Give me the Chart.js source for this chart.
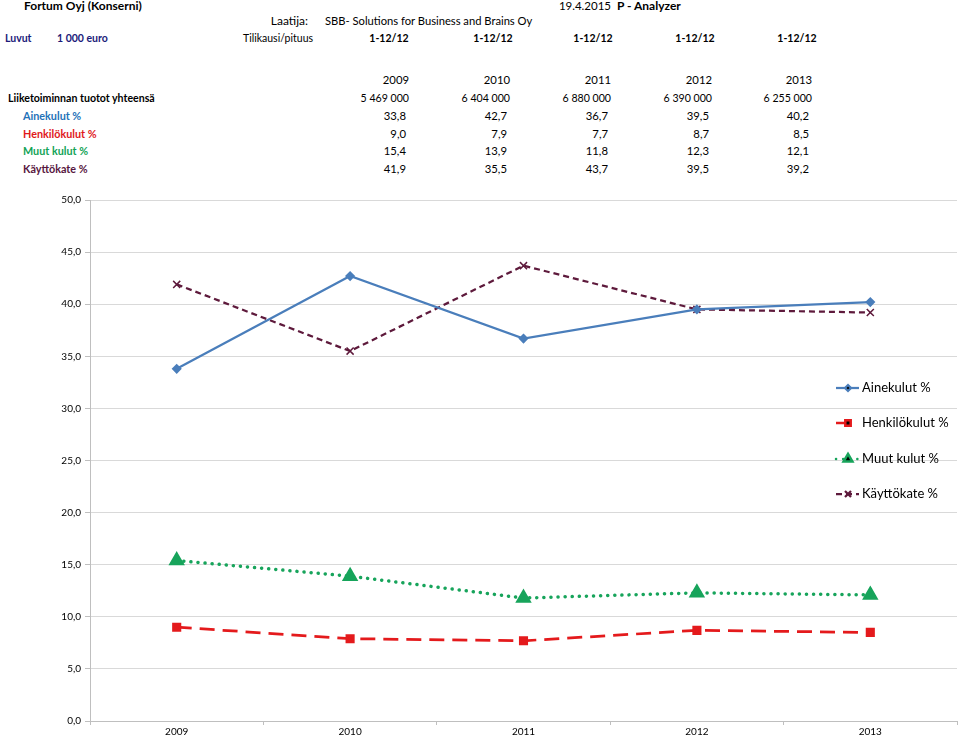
<!DOCTYPE html>
<html>
<head>
<meta charset="utf-8">
<script src="https://cdn.jsdelivr.net/npm/chart.js@4"></script>
<style>
  body { margin: 0; width: 960px; height: 737px; position: relative; overflow: hidden; background: #fff; font-family: Lato, "Open Sans", sans-serif; color: #000; }
  .t { position: absolute; white-space: nowrap; font-size: 11.3px; line-height: 14px; }
  .b { font-weight: bold; }
  .r { text-align: right; }
  #chartBox { position: absolute; left: 0; top: 190px; width: 960px; height: 547px; }
</style>
</head>
<body>
<div id="head"></div>
<div id="chartBox"><canvas id="lineChart"></canvas></div>
<script>
const years = ['2009', '2010', '2011', '2012', '2013'];
const periods = ['1-12/12', '1-12/12', '1-12/12', '1-12/12', '1-12/12'];
const tuotot = ['5 469 000', '6 404 000', '6 880 000', '6 390 000', '6 255 000'];
const ainekulut = [33.8, 42.7, 36.7, 39.5, 40.2];
const henkilokulut = [9.0, 7.9, 7.7, 8.7, 8.5];
const muutKulut = [15.4, 13.9, 11.8, 12.3, 12.1];
const kayttokate = [41.9, 35.5, 43.7, 39.5, 39.2];

const fmt = (v) => v.toFixed(1).replace('.', ',');

// header + table as plain text
const head = document.getElementById('head');
const put = (text, x, y, cls, style) => {
    const d = document.createElement('div');
    d.className = 't ' + (cls || '');
    d.textContent = text;
    d.style.left = x + 'px';
    d.style.top = y + 'px';
    if (style) Object.assign(d.style, style);
    head.appendChild(d);
    return d;
};
const putR = (text, right, y, cls, style) => {
    const d = put(text, 0, y, 'r ' + (cls || ''), style);
    d.style.left = '';
    d.style.right = (960 - right) + 'px';
    return d;
};

put('Fortum Oyj (Konserni)', 24, -1, 'b', { fontSize: '12px' });
putR('19.4.2015', 611, -1, '', { fontSize: '11.5px' });
put('P - Analyzer', 617, -1, 'b', { fontSize: '12px' });
putR('Laatija:', 308, 14, '', { fontSize: '12px' });
put('SBB- Solutions for Business and Brains Oy', 325, 14, '', { fontSize: '11.2px' });
put('Luvut', 5, 31, 'b', { color: '#1b1b7a', fontSize: '10.5px' });
put('1 000 euro', 57, 31, 'b', { color: '#1b1b7a', fontSize: '10.5px' });
put('Tilikausi/pituus', 243, 31, '', { fontSize: '10.5px' });
const periodX = [389, 493, 593, 695, 797];
periods.forEach((p, i) => {
    put(p, periodX[i] - 30, 31, 'b', { fontSize: '10.5px', width: '60px', textAlign: 'center' });
});

const colRight = [409, 510, 611, 712, 812];
years.forEach((y, i) => putR(y, colRight[i], 73));
put('Liiketoiminnan tuotot yhteensä', 8, 91, 'b', { fontSize: '10.6px' });
tuotot.forEach((v, i) => putR(v, colRight[i], 91, '', { fontSize: '10.6px' }));

const rows = [
    ['Ainekulut %', ainekulut, '#1f72b8'],
    ['Henkilökulut %', henkilokulut, '#e0181b'],
    ['Muut kulut %', muutKulut, '#12a356'],
    ['Käyttökate %', kayttokate, '#571640'],
];
rows.forEach((row, r) => {
    const y = 109 + r * 17.5;
    put(row[0], 23, y, 'b', { color: row[2], fontSize: '10.8px' });
    row[1].forEach((v, i) => putR(fmt(v), colRight[i] - 3, y));
});

// legend drawn on the canvas, over the plot like in the original
const legendPlugin = {
    id: 'sideLegend',
    afterDraw(chart) {
        const ctx = chart.ctx;
        const top = chart.canvas.getBoundingClientRect().top;
        const ys = [388, 423, 459, 494];
        chart.data.datasets.forEach((ds, i) => {
            const y = ys[i] - top;
            ctx.save();
            ctx.strokeStyle = ds.borderColor;
            ctx.lineWidth = Math.min(ds.borderWidth, 2.5);
            ctx.setLineDash(ds.borderDash || []);
            ctx.lineCap = ds.borderCapStyle || 'butt';
            ctx.beginPath();
            ctx.moveTo(836, y);
            ctx.lineTo(859, y);
            ctx.stroke();
            ctx.setLineDash([]);
            Chart.helpers.drawPoint(ctx, {
                pointStyle: ds.pointStyle,
                radius: ds.pointRadius * 0.85,
                borderWidth: ds.pointBorderWidth || 1,
            }, 848, y);
            ctx.fillStyle = '#000';
            ctx.font = '13px Lato, "Open Sans", sans-serif';
            ctx.textBaseline = 'middle';
            ctx.fillText(ds.label, 862, y);
            ctx.restore();
        });
    }
};

const datasets = [
    {
        label: 'Ainekulut %', data: ainekulut,
        borderColor: '#4a7ebb', backgroundColor: '#4a7ebb',
        borderWidth: 2.25, pointStyle: 'rectRot', pointRadius: 3.5,
        pointBorderColor: '#4a7ebb', pointBackgroundColor: '#4a7ebb',
    },
    {
        label: 'Henkilökulut %', data: henkilokulut,
        borderColor: '#e41a1c', backgroundColor: '#e41a1c',
        borderWidth: 2.75, borderDash: [15, 8], pointStyle: 'rect', pointRadius: 4.5,
        pointBorderColor: '#e41a1c', pointBackgroundColor: '#e41a1c',
    },
    {
        label: 'Muut kulut %', data: muutKulut,
        borderColor: '#17a45b', backgroundColor: '#17a45b',
        borderWidth: 3.5, borderDash: [0.1, 7], borderCapStyle: 'round',
        pointStyle: 'triangle', pointRadius: 6,
        pointBorderColor: '#17a45b', pointBackgroundColor: '#17a45b',
    },
    {
        label: 'Käyttökate %', data: kayttokate,
        borderColor: '#5e1a3c', backgroundColor: '#5e1a3c',
        borderWidth: 2.25, borderDash: [6, 4], pointStyle: 'crossRot', pointRadius: 5,
        pointBorderColor: '#5e1a3c', pointBorderWidth: 1.5,
    },
];

new Chart(document.getElementById('lineChart'), {
    type: 'line',
    data: { labels: years, datasets },
    plugins: [legendPlugin],
    options: {
        responsive: true,
        maintainAspectRatio: false,
        animation: false,
        layout: { autoPadding: false, padding: { top: 10, right: 3, left: 0, bottom: 0 } },
        elements: { line: { tension: 0 } },
        plugins: { legend: { display: false }, tooltip: { enabled: false } },
        scales: {
            x: {
                offset: true,
                grid: { offset: true, drawOnChartArea: false, color: '#bfbfbf', tickLength: 4 },
                border: { color: '#bfbfbf' },
                ticks: { color: '#000', padding: 1, font: { family: 'Lato', size: 10 } },
                afterFit: (s) => { s.height = 16; s.paddingLeft = 0; s.paddingRight = 0; },
            },
            y: {
                min: 0, max: 50,
                grid: { color: '#d9d9d9', tickColor: '#bfbfbf', tickLength: 5 },
                border: { color: '#bfbfbf' },
                ticks: { stepSize: 5, color: '#000', padding: 4, font: { family: 'Lato', size: 10 }, callback: (v) => fmt(v) },
                afterFit: (s) => { s.width = 90; s.paddingTop = 0; s.paddingBottom = 0; },
            },
        },
    },
});
</script>
</body>
</html>
